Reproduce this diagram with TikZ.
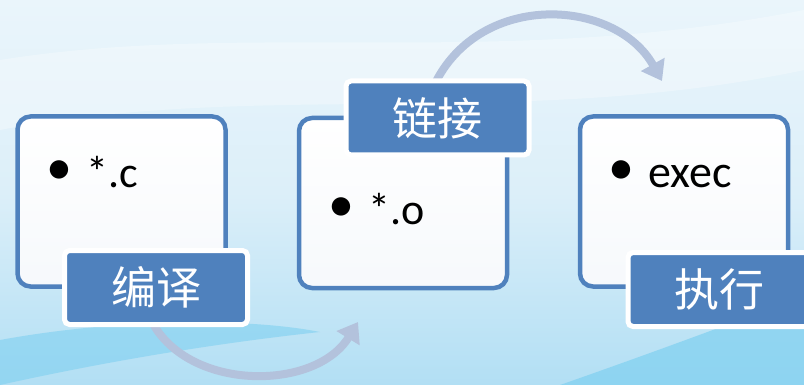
\documentclass[tikz,border=0pt]{standalone}
\usepackage{fontspec}
\setmainfont{Carlito}
\newfontfamily\cjk{Noto Sans CJK SC}
\usetikzlibrary{arrows.meta}

\definecolor{tagblue}{HTML}{4F81BD}
\definecolor{flowgray}{HTML}{B3C2DC}
\definecolor{bgtop}{HTML}{EAF5FB}
\definecolor{bgmid}{HTML}{DCEFF9}
\definecolor{bgbot}{HTML}{B2DFF4}
\definecolor{swoosh}{HTML}{7FD0F0}

\tikzset{
  stage/.style={draw=tagblue, line width=4.5pt, rounded corners=13pt,
    top color=white, bottom color=white!95!tagblue,
    minimum width=208pt, minimum height=170pt, inner sep=0pt},
  tag/.style={draw=white, line width=5pt, rounded corners=5pt,
    fill=tagblue, text=white, font=\cjk\fontsize{45}{45}\selectfont,
    minimum width=183pt, minimum height=74pt, inner sep=0pt},
  flow/.style={draw=flowgray, line width=8pt,
    -{Triangle[length=19pt,width=26pt]}},
  bul/.style={inner sep=0pt, font=\fontsize{52}{52}\selectfont},
  item/.style={anchor=base west, inner sep=0pt,
    font=\fontsize{44}{44}\selectfont}
}

\begin{document}
\begin{tikzpicture}[x=1pt,y=-1pt]
  \useasboundingbox (0,0) rectangle (804,385);

  % background
  \fill[top color=bgtop, bottom color=bgbot, middle color=bgmid]
    (0,0) rectangle (804,385);
  \fill[white, opacity=.3]
    (0,60) .. controls (250,20) and (500,70) .. (804,10) -- (804,70)
    .. controls (520,130) and (260,80) .. (0,130) -- cycle;
  \fill[swoosh, opacity=.6]
    (0,340) .. controls (120,318) and (250,318) .. (320,332)
    .. controls (200,345) and (90,365) .. (0,385) -- cycle;
  \fill[swoosh, opacity=.7]
    (560,385) .. controls (660,350) and (740,320) .. (804,296)
    -- (804,385) -- cycle;

  % arrows
  \coordinate (s1) at (150,318);
  \coordinate (t1) at (358,322);
  \coordinate (s2) at (432,90);
  \coordinate (t2) at (662,81);
  \draw[flow] (s1) .. controls (185,392) and (315,392) .. (t1);
  \draw[flow] (s2) .. controls (475,-10) and (615,-3) .. (t2);

  % stages
  \node[stage] (cbox) at (121.5,201.5) {};
  \node[stage] (obox) at (403,203) {};
  \node[stage] (ebox) at (684,201.5) {};

  \node[bul] (cdot) at (59,173) {•};
  \node[item] (ctxt) at (86,188) {*.c};
  \node[bul] (odot) at (341,210) {•};
  \node[item] (otxt) at (368,225) {*.o};
  \node[bul] (edot) at (621,173) {•};
  \node[item, font=\fontsize{46}{46}\selectfont] (etxt) at (648,188) {exec};

  % labels
  \node[tag] (ctag) at (156,287.5) {编译};
  \node[tag] (otag) at (437.5,118) {链接};
  \node[tag] (etag) at (719.5,289.5) {执行};
\end{tikzpicture}
\end{document}
